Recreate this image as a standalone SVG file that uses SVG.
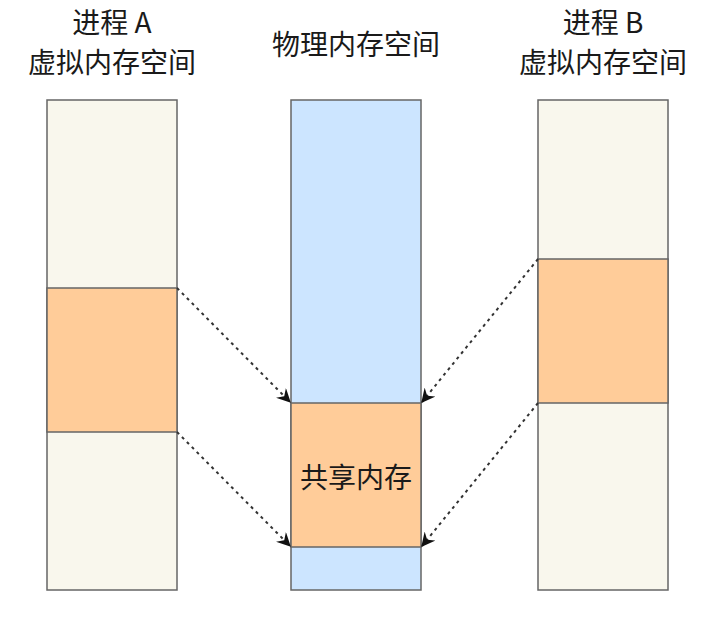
<svg xmlns="http://www.w3.org/2000/svg" width="715" height="625" viewBox="0 0 715 625">
<style>
.t{font-family:"Noto Sans CJK SC","Liberation Sans",sans-serif;font-size:28px;fill:#1a1a1a;text-anchor:middle}
.box{stroke:#666;stroke-width:1.5}
.cream{fill:#f9f7ed}
.orange{fill:#ffcc99}
.blue{fill:#cce5ff}
.c{fill:none;stroke:#333;stroke-width:2;stroke-dasharray:3 4;marker-end:url(#ah)}
</style>
<defs>
<marker id="ah" viewBox="0 0 12 12" refX="11" refY="6" markerWidth="7" markerHeight="7" orient="auto" markerUnits="strokeWidth">
<path d="M0,0 L12,6 L0,12 L4,6 Z" fill="#111"/>
</marker>
</defs>
<rect width="715" height="625" fill="#fff"/>
<g id="procA">
<text class="t" x="112" y="33">进程 A</text>
<text class="t" x="112" y="73">虚拟内存空间</text>
<rect class="box cream" x="47" y="100" width="130" height="490"/>
<rect class="box orange" x="47" y="288" width="130" height="144"/>
</g>
<g id="phys">
<text class="t" x="356" y="55">物理内存空间</text>
<rect class="box blue" x="291" y="100" width="130" height="490"/>
<rect class="box orange" x="291" y="403" width="130" height="144"/>
<text class="t" x="356" y="488">共享内存</text>
</g>
<g id="procB">
<text class="t" x="603" y="33">进程 B</text>
<text class="t" x="603" y="73">虚拟内存空间</text>
<rect class="box cream" x="538" y="100" width="130" height="490"/>
<rect class="box orange" x="538" y="259" width="130" height="144"/>
</g>
<g id="connectors">
<line class="c" x1="177" y1="288" x2="290" y2="402"/>
<line class="c" x1="177" y1="432" x2="290" y2="546"/>
<line class="c" x1="538" y1="259" x2="422" y2="402"/>
<line class="c" x1="538" y1="403" x2="422" y2="546"/>
</g>
</svg>
